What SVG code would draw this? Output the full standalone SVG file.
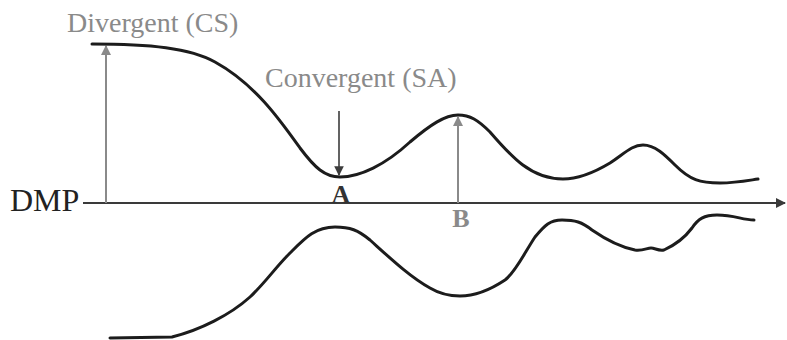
<svg xmlns="http://www.w3.org/2000/svg" width="787" height="340" viewBox="0 0 787 340">
<style>
.curve{fill:none;stroke:#1c1c1c;stroke-width:3;stroke-linecap:round;stroke-linejoin:round}
.axis{fill:none;stroke:#3a3a3a;stroke-width:2}
.garrow{fill:none;stroke:#8a8a8a;stroke-width:2}
.darrow{fill:none;stroke:#3c3c3c;stroke-width:1.6}
.lbl{font-family:"Liberation Serif","Times New Roman",serif;font-size:28px}
.gray{fill:#8a8a8a}
.dark{fill:#222}
.bold{font-weight:bold;font-size:26px}
</style>
<defs>
<marker id="mg" viewBox="0 0 10 10" refX="9" refY="5" markerWidth="5" markerHeight="5" orient="auto" markerUnits="strokeWidth"><path d="M0,0 L10,5 L0,10 z" fill="#8a8a8a"/></marker>
<marker id="md" viewBox="0 0 10 10" refX="9" refY="5" markerWidth="6" markerHeight="6" orient="auto" markerUnits="strokeWidth"><path d="M0,0 L10,5 L0,10 z" fill="#3c3c3c"/></marker>
<marker id="ma" viewBox="0 0 10 10" refX="9" refY="5" markerWidth="5" markerHeight="5" orient="auto" markerUnits="strokeWidth"><path d="M0,0 L10,5 L0,10 z" fill="#3a3a3a"/></marker>
</defs>
<g id="connectors">
<line id="axis" class="axis" x1="83" y1="203" x2="785" y2="203" marker-end="url(#ma)"/>
<line id="arrow-divergent" class="garrow" x1="106" y1="203" x2="106" y2="46" marker-end="url(#mg)"/>
<line id="arrow-convergent" class="darrow" x1="339" y1="111" x2="339" y2="175" marker-end="url(#md)"/>
<line id="arrow-b" class="garrow" x1="458" y1="203" x2="458" y2="117" marker-end="url(#mg)"/>
</g>
<g id="upper-curve">
<path class="curve" d="M92,44 C150,44 190,48 215,62 C255,84 280,120 300,148 C315,168 325,177 340,177 C360,177 385,165 410,142 C430,125 445,115 458,115 C470,115 478,120 490,132 C510,155 530,179 563,179 C580,179 595,172 610,163 C625,153 632,145 643,145 C655,145 665,155 675,165 C690,180 700,183 720,183 C735,183 745,181 758,179"/>
</g>
<g id="lower-curve">
<path class="curve" d="M110,338 L172,337 C200,330 230,315 250,297 C265,283 275,268 290,253 C305,238 315,227 335,227 C350,227 358,230 370,240 C390,258 410,277 430,288 C440,294 450,296 460,296 C475,296 490,290 505,280 C515,273 525,252 535,237 C545,225 550,220 562,220 C575,220 582,222 592,230 C605,239 620,247 635,250 C643,251 647,248 651,248 C655,248 658,251 664,250 C675,245 686,236 692,228 C698,219 704,215 717,215 C735,215 742,220 754,220"/>
</g>
<g id="label-divergent"><text class="lbl gray" x="67" y="32">Divergent (CS)</text></g>
<g id="label-convergent"><text class="lbl gray" x="265" y="87">Convergent (SA)</text></g>
<g id="label-dmp"><text class="lbl dark" x="10" y="211" style="font-size:32px">DMP</text></g>
<g id="label-a"><text class="lbl bold" x="341" y="203" text-anchor="middle" fill="#333">A</text></g>
<g id="label-b"><text class="lbl bold gray" x="461" y="227" text-anchor="middle">B</text></g>
</svg>
